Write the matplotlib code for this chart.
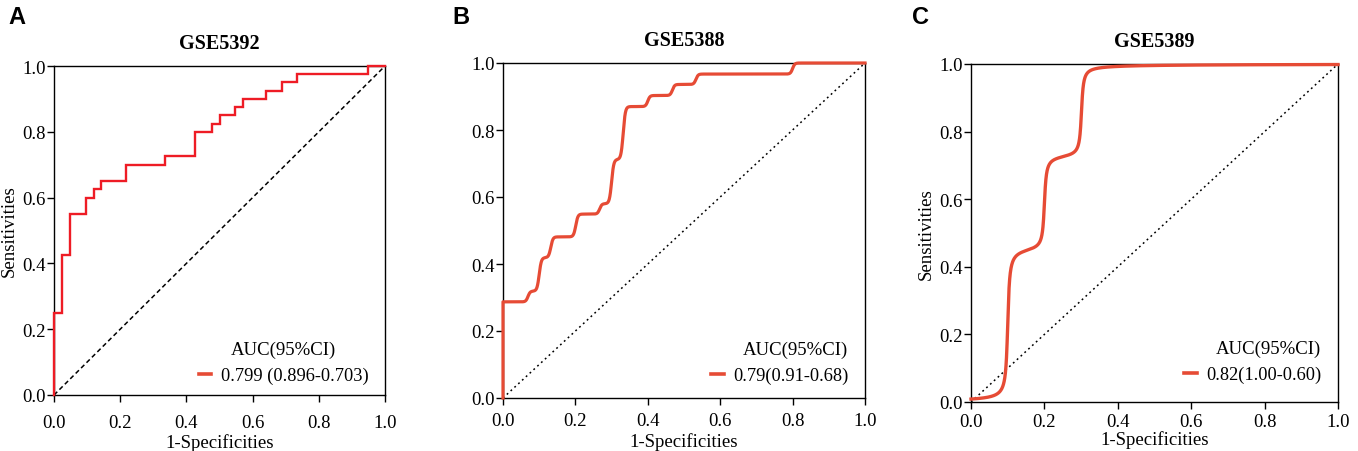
import numpy as np
import matplotlib.pyplot as plt
from matplotlib.lines import Line2D

plt.rcParams['font.family'] = ['Liberation Serif', 'DejaVu Serif']

# GSE5392 - empirical ROC (step corners)
a_fpr = [0.0, 0.025, 0.049, 0.098, 0.121, 0.143, 0.217, 0.334, 0.427, 0.477,
         0.500, 0.547, 0.571, 0.641, 0.689, 0.735, 0.950, 1.0]
a_tpr = [0.250, 0.425, 0.550, 0.600, 0.625, 0.650, 0.700, 0.725, 0.800, 0.825,
         0.850, 0.875, 0.900, 0.925, 0.950, 0.975, 1.000, 1.0]

# GSE5388 - smoothed ROC, step positions and levels
b_fpr = [0.0, 0.069, 0.100, 0.132, 0.201, 0.267, 0.300, 0.332, 0.400, 0.468, 0.533, 0.800]
b_tpr = [0.287, 0.319, 0.419, 0.481, 0.549, 0.580, 0.712, 0.870, 0.903, 0.936, 0.967, 1.0]

# GSE5389 - smoothed ROC
c_fpr = [0.100, 0.200, 0.301]
c_tpr = [0.450, 0.730, 1.0]

titles = ['GSE5392', 'GSE5388', 'GSE5389']
letters = ['A', 'B', 'C']
auc_labels = ['0.799 (0.896-0.703)', '0.79(0.91-0.68)', '0.82(1.00-0.60)']
ticks = [0.0, 0.2, 0.4, 0.6, 0.8, 1.0]

red = '#ee1c25'
npg_red = '#e64b35'


def smooth_steps(fpr, tpr, width, x, kind='arctan'):
    y = np.zeros_like(x)
    prev = 0.0
    for f, t in zip(fpr, tpr):
        z = (x - f) / width
        if f <= 0:
            s = np.ones_like(x)  # jump at the origin stays a hard vertical
        elif kind == 'arctan':
            s = 0.5 + np.arctan(z) / np.pi
        else:
            s = 1.0 / (1.0 + np.exp(-np.clip(z, -60, 60)))
        y += (t - prev) * s
        prev = t
    return y


def step_curve(fpr, tpr):
    xs, ys = [0.0], [0.0]
    for f, t in zip(fpr, tpr):
        xs += [f, f]
        ys += [ys[-1], t]
    return xs, ys


fig = plt.figure(figsize=(13.58, 4.52), dpi=100)
boxes = [(54, 385, 67, 396), (503, 865, 64, 399), (971, 1338, 65, 403)]
W, H = 1358, 452
axes = []
for l, r, t, b in boxes:
    axes.append(fig.add_axes([l / W, (H - b) / H, (r - l) / W, (b - t) / H]))

xx = np.linspace(0, 1, 3000)
curves = [step_curve(a_fpr, a_tpr),
          ([0.0] + list(xx), [0.0] + list(smooth_steps(b_fpr, b_tpr, 0.003, xx, 'logistic'))),
          (xx, smooth_steps(c_fpr, c_tpr, 0.004, xx))]
colors = [red, npg_red, npg_red]
widths = [1.7, 2.3, 2.4]
diag_styles = [(0, (3, 2)), (0, (1.2, 2.2)), (0, (1.2, 2.2))]
leg_y = [-0.017, -0.008, 0.007]
xtick_pad = [9, 5, 3]
xlabel_pad = [1, 2, 0]

for i, ax in enumerate(axes):
    cx, cy = curves[i]
    ax.plot([0, 1], [0, 1], color='black', lw=1.1, linestyle=diag_styles[i], zorder=2)
    ax.plot(cx, cy, color=colors[i], lw=widths[i], zorder=5, clip_on=False,
            solid_joinstyle='miter' if i == 0 else 'round')
    ax.set_xlim(0, 1)
    ax.set_ylim(0, 1)
    ax.set_xticks(ticks)
    ax.set_yticks(ticks)
    ax.set_xticklabels([f'{v:.1f}' for v in ticks])
    ax.set_yticklabels([f'{v:.1f}' for v in ticks])
    ax.tick_params(direction='out', length=5, width=1, labelsize=13.5, color='black')
    ax.tick_params(axis='x', pad=xtick_pad[i])
    ax.tick_params(axis='y', pad=1)
    for s in ax.spines.values():
        s.set_linewidth(1.0)
        s.set_color('black')
    ax.set_xlabel('1-Specificities', fontsize=13.5, labelpad=xlabel_pad[i])
    if i != 1:
        ax.set_ylabel('Sensitivities', fontsize=13.5, labelpad=3)
    ax.set_title(titles[i], fontsize=14.5, fontweight='bold', pad=13)
    handle = Line2D([], [], color=npg_red, lw=2.6)
    ax.legend([handle], [auc_labels[i]], title='AUC(95%CI)', loc='lower right',
              bbox_to_anchor=(0.999, leg_y[i]), frameon=False, fontsize=13.2,
              title_fontsize=13.5, handlelength=0.7, handletextpad=0.5,
              alignment='center' if i == 0 else 'right')

letter_x = [8, 452, 912]
for lx, lt in zip(letter_x, letters):
    fig.text(lx / W, 1 - 6 / H, lt, fontsize=17, fontweight='bold',
             family='Liberation Sans', va='top', ha='left')

fig.savefig('out.png', dpi=100)
